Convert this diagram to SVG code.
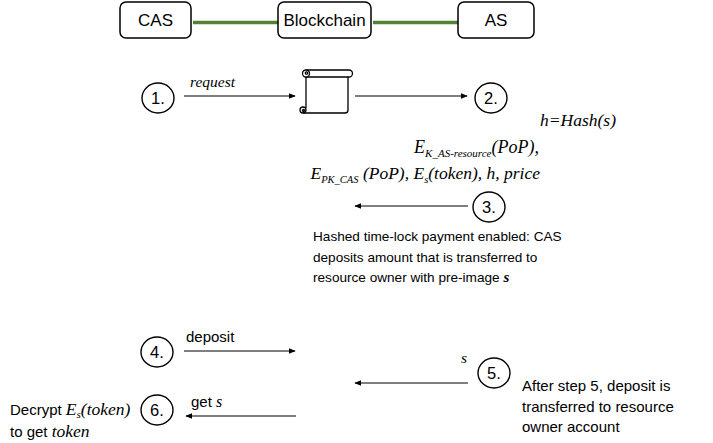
<svg xmlns="http://www.w3.org/2000/svg" width="713" height="443" viewBox="0 0 713 443">
<style>
.box{fill:#fff;stroke:#000;stroke-width:1.5}
.bt{font-family:"Liberation Sans",Arial,sans-serif;font-size:17px;fill:#000;text-anchor:middle}
.link{stroke:#548235;stroke-width:3.5;fill:none}
.circ{fill:#fff;stroke:#000;stroke-width:1.4}
.ct{font-family:"Liberation Sans",Arial,sans-serif;font-size:16.5px;fill:#000;text-anchor:middle}
.arr{stroke:#000;stroke-width:1.1;fill:none;marker-end:url(#ah)}
.sans{font-family:"Liberation Sans",Arial,sans-serif;fill:#000}
.m{font-family:"Liberation Serif","Times New Roman",serif;font-style:italic;fill:#000}
</style>
<defs>
<marker id="ah" viewBox="0 0 10 10" refX="9" refY="5" markerWidth="7" markerHeight="7" markerUnits="userSpaceOnUse" orient="auto">
<path d="M0,1 L10,5 L0,9 Z" fill="#000"/>
</marker>
</defs>
<rect width="713" height="443" fill="#fff"/>
<g id="links">
<line class="link" x1="193" y1="22.5" x2="278" y2="22.5"/>
<line class="link" x1="373" y1="22.5" x2="458" y2="22.5"/>
</g>
<g id="node-cas"><rect class="box" x="120" y="2" width="71" height="36" rx="6"/><text class="bt" x="155.5" y="26">CAS</text></g>
<g id="node-blockchain"><rect class="box" x="278" y="2" width="93" height="36" rx="6"/><text class="bt" x="324.5" y="26">Blockchain</text></g>
<g id="node-as"><rect class="box" x="458" y="2" width="76" height="36" rx="6"/><text class="bt" x="496" y="26">AS</text></g>

<g id="node-scroll" fill="none" stroke="#000" stroke-width="1.3">
<path d="M306,70 H349 A3.5,3.5 0 0 1 349,77 H306" fill="#fff"/>
<circle cx="306" cy="73.5" r="3.5" fill="#fff"/>
<circle cx="306.5" cy="73" r="1.2"/>
<path d="M306,77 V108"/>
<path d="M348,77 V110 Q348,113 345,113 H303"/>
<circle cx="303" cy="110" r="3" fill="#fff"/>
<circle cx="303.5" cy="110.5" r="1"/>
</g>

<g id="connectors">
<line class="arr" x1="184" y1="96" x2="295" y2="96"/>
<line class="arr" x1="355" y1="96" x2="467" y2="96"/>
<line class="arr" x1="468" y1="206" x2="355" y2="206"/>
<line class="arr" x1="184" y1="351" x2="295" y2="351"/>
<line class="arr" x1="468" y1="383" x2="355" y2="383"/>
<line class="arr" x1="296" y1="416" x2="186" y2="416"/>
</g>

<g id="step1"><ellipse class="circ" cx="158" cy="98" rx="16" ry="15"/><text class="ct" x="158" y="104">1.</text></g>
<g id="step2"><ellipse class="circ" cx="491" cy="98" rx="16" ry="15"/><text class="ct" x="491" y="104">2.</text></g>
<g id="step3"><ellipse class="circ" cx="489" cy="207" rx="16" ry="15"/><text class="ct" x="489" y="213">3.</text></g>
<g id="step4"><ellipse class="circ" cx="157" cy="352" rx="16" ry="15"/><text class="ct" x="157" y="358">4.</text></g>
<g id="step5"><ellipse class="circ" cx="494" cy="373" rx="16" ry="15"/><text class="ct" x="494" y="379">5.</text></g>
<g id="step6"><ellipse class="circ" cx="157" cy="410" rx="16" ry="15"/><text class="ct" x="157" y="416">6.</text></g>

<g id="labels">
<text class="m" x="190" y="87" font-size="15.5">request</text>
<text class="m" x="540" y="126" font-size="17.5">h=Hash(s)</text>
<text class="m" x="539" y="153" font-size="18" text-anchor="end">E<tspan dy="4" font-size="11">K_AS-resource</tspan><tspan dy="-4">(PoP),</tspan></text>
<text class="m" x="540" y="179" font-size="17.5" text-anchor="end">E<tspan dy="4" font-size="10.5">PK_CAS</tspan><tspan dy="-4"> (PoP), E</tspan><tspan dy="4" font-size="10.5">s</tspan><tspan dy="-4">(token), h, price</tspan></text>
<text class="sans" x="313" y="241" font-size="13.6">Hashed time-lock payment enabled: CAS</text>
<text class="sans" x="313" y="261.5" font-size="13.6">deposits amount that is transferred to</text>
<text class="sans" x="313" y="282" font-size="13.6">resource owner with pre-image <tspan class="m" font-weight="bold" font-size="15">s</tspan></text>
<text class="sans" x="186" y="342" font-size="15">deposit</text>
<text class="m" x="461" y="363" font-size="15.5">s</text>
<text class="sans" x="522" y="391" font-size="15">After step 5, deposit is</text>
<text class="sans" x="522" y="411.5" font-size="15">transferred to resource</text>
<text class="sans" x="522" y="432" font-size="15">owner account</text>
<text class="sans" x="191" y="407" font-size="15">get <tspan class="m" font-size="16">s</tspan></text>
<text class="sans" x="10" y="415" font-size="15">Decrypt <tspan class="m" font-size="17.5">E<tspan dy="3" font-size="11">s</tspan><tspan dy="-3">(token)</tspan></tspan></text>
<text class="sans" x="10" y="437" font-size="15">to get <tspan class="m" font-size="17.5">token</tspan></text>
</g>
</svg>
